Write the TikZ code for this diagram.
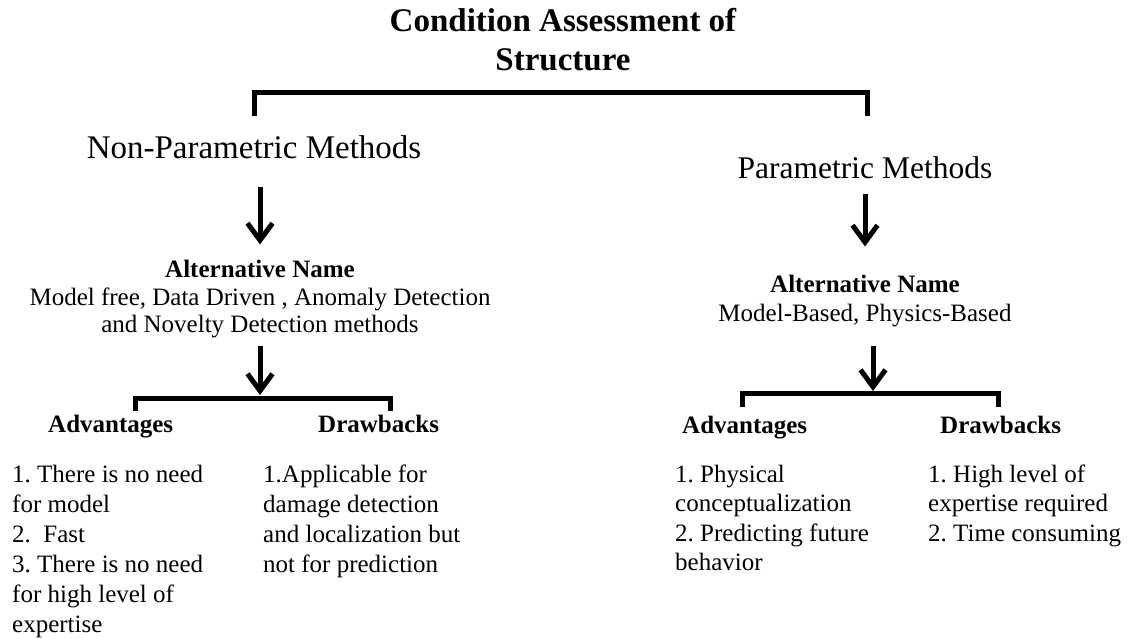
\documentclass[tikz,border=0pt]{standalone}
\usepackage{fontspec}
\setmainfont{Liberation Serif}
\usetikzlibrary{arrows.meta}
\frenchspacing
\begin{document}
\begin{tikzpicture}[x=1pt,y=-1pt,
		every node/.style={inner sep=0pt,anchor=base},
		arr/.style={line width=5pt,-{Straight Barb[length=17pt,width=25pt]}},
		brace/.style={line width=5pt},
		body/.style={font=\fontsize{25}{30}\selectfont,align=left,anchor=base west},
		head/.style={font=\fontsize{25}{30}\selectfont\bfseries,anchor=base west}]
			\useasboundingbox (0,0) rectangle (1128,639);

			% title and top bracket (multi-line nodes sit on their last line)
			\node[font=\fontsize{33}{39}\selectfont\bfseries,align=center] (title) at (563,71) {Condition Assessment of\\Structure};
			\coordinate (top) at (567,93);
			\coordinate (topl) at (254,116);
			\coordinate (topr) at (867,116);
			\draw[brace] (topl) |- (top) -| (topr);

			% two branches
			\node[font=\fontsize{33}{39}\selectfont] (nonpar) at (254,159) {Non-Parametric Methods};
			\node[font=\fontsize{31.5}{38}\selectfont] (par) at (865,179) {Parametric Methods};

			\node[font=\fontsize{25}{27.5}\selectfont,align=center] (altl) at (260,333) {\textbf{Alternative Name}\\Model free, Data Driven , Anomaly Detection\\and Novelty Detection methods};
			\node[font=\fontsize{25}{29}\selectfont,align=center] (altr) at (865,322) {\textbf{Alternative Name}\\Model-Based, Physics-Based};

			\draw[arr,shorten <=27pt,shorten >=16pt] (nonpar.south -| altl.north) -- (altl.north);
			\draw[arr,shorten <=14pt,shorten >=29pt] (par.south) -- (altr.north);

			% lower brackets
			\coordinate (bl) at (260,398);
			\coordinate (bla) at (135,411);
			\coordinate (blb) at (390,411);
			\coordinate (br) at (873,393);
			\coordinate (bra) at (742,407);
			\coordinate (brb) at (998,407);
			\draw[brace] (bla) |- (bl) -| (blb);
			\draw[brace] (bra) |- (br) -| (brb);
			\draw[arr,shorten <=7pt,shorten >=3pt] (altl.south) -- (bl);
			\draw[arr,shorten <=18pt,shorten >=2pt] (altr.south -| br) -- (br);

			% advantages / drawbacks
			\node[head] (advl) at (48,432) {Advantages};
			\node[head] (drwl) at (318,432) {Drawbacks};
			\node[head] (advr) at (682,433) {Advantages};
			\node[head] (drwr) at (940,433) {Drawbacks};

			\node[body] (advltxt) at (12,632) {1. There is no need\\for model\\2.\ \ Fast\\3. There is no need\\for high level of\\expertise};
			\node[body] (drwltxt) at (263,572) {1.Applicable for\\damage detection\\and localization but\\not for prediction};
			\node[body,font=\fontsize{25}{29.5}\selectfont] (advrtxt) at (675,570.5) {1. Physical\\conceptualization\\2. Predicting future\\behavior};
			\node[body,font=\fontsize{25}{29.5}\selectfont] (drwrtxt) at (928,541) {1. High level of\\expertise required\\2. Time consuming};
		\end{tikzpicture}
\end{document}
